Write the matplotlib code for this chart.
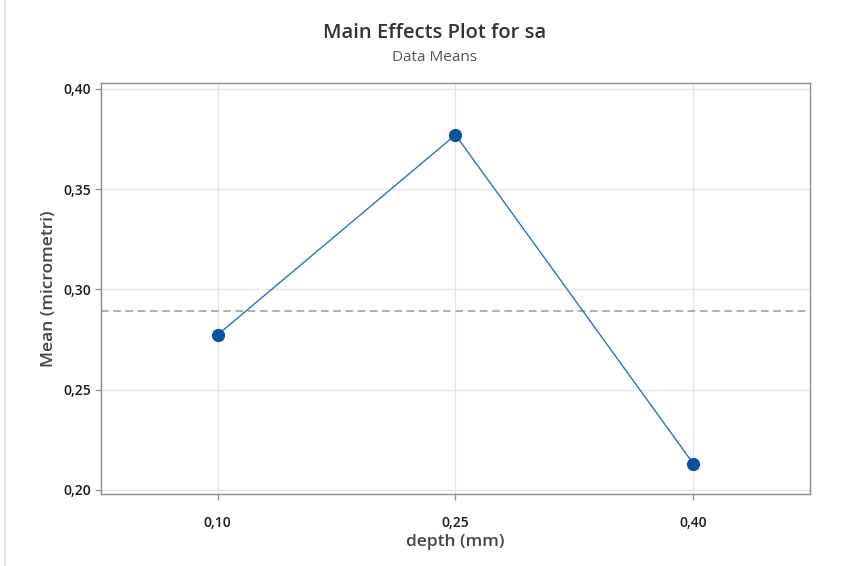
import matplotlib
matplotlib.use("Agg")
import matplotlib.pyplot as plt
from matplotlib.patches import Rectangle

categories = ["0,10", "0,25", "0,40"]
means = [0.2773, 0.3771, 0.2130]
grand_mean = 0.2891
yticks = [0.20, 0.25, 0.30, 0.35, 0.40]
ytick_labels = ["0,20", "0,25", "0,30", "0,35", "0,40"]

plt.rcParams['font.family'] = ['Open Sans', 'DejaVu Sans']

fig = plt.figure(figsize=(8.43, 5.66), dpi=100)
fig.patch.set_facecolor('white')
# light figure border
fig.add_artist(Rectangle((0.006, -0.01), 1.2, 1.5, transform=fig.transFigure,
                         fill=False, edgecolor='#e3e3e3', linewidth=1.2))

ax = fig.add_axes([0.1198, 0.1272, 0.841, 0.7262])
x = list(range(len(categories)))
ax.axhline(grand_mean, color='#9a9a9a', linestyle=(0, (5, 3)), linewidth=1.1, zorder=2)
ax.plot(x, means, color='#2a74bf', linewidth=1.0, zorder=3)
ax.plot(x, means, linestyle='none', marker='o', markersize=8.5,
        color='#0a52a0', zorder=4)

ax.set_xlim(-0.49, 2.49)
ax.set_ylim(0.1979, 0.403)
ax.set_xticks(x)
ax.set_xticklabels(categories)
ax.set_yticks(yticks)
ax.set_yticklabels(ytick_labels)
ax.grid(True, color='#e4e4e4', linewidth=0.9, zorder=0)
ax.set_axisbelow(True)
for s in ax.spines.values():
    s.set_color('#8c8c8c')
    s.set_linewidth(1.0)
ax.tick_params(axis='both', colors='#8c8c8c', labelcolor='#1a1a1a',
               labelsize=10, length=4, width=0.9)
ax.tick_params(axis='x', pad=12)
ax.tick_params(axis='y', pad=3)
for lbl in ax.get_xticklabels() + ax.get_yticklabels():
    lbl.set_fontweight('semibold')

ax.set_xlabel('depth (mm)', fontsize=12.5, color='#444444', fontweight='semibold', labelpad=3)
ax.set_ylabel('Mean (micrometri)', fontsize=12.5, color='#444444', fontweight='semibold', labelpad=5)

fig.text(0.5155, 0.942, 'Main Effects Plot for sa', ha='center', va='center',
         fontsize=14.5, color='#333333', fontweight='semibold')
fig.text(0.5155, 0.898, 'Data Means', ha='center', va='center',
         fontsize=11, color='#555555')

fig.savefig('out.png', dpi=100, facecolor='white')
